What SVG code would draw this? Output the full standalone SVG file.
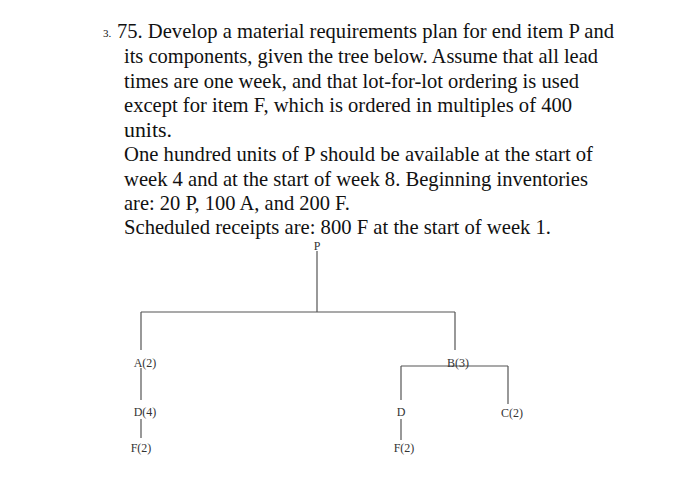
<svg xmlns="http://www.w3.org/2000/svg" width="700" height="494" viewBox="0 0 700 494">
<style>
.t{font-family:"Liberation Serif",serif;font-size:21px;fill:#111}
.n{font-family:"Liberation Serif",serif;font-size:12px;fill:#333;text-anchor:middle}
.c{stroke:#555;stroke-width:1.2;fill:none}
</style>
<rect width="700" height="494" fill="#fff"/>
<g id="question">
<text x="103" y="37" style="font-family:'Liberation Serif',serif;font-size:11px;fill:#111">3.</text>
<text class="t" x="117" y="38" textLength="497" lengthAdjust="spacingAndGlyphs">75. Develop a material requirements plan for end item P and</text>
<text class="t" x="124" y="63" textLength="474" lengthAdjust="spacingAndGlyphs">its components, given the tree below. Assume that all lead</text>
<text class="t" x="124" y="88" textLength="455" lengthAdjust="spacingAndGlyphs">times are one week, and that lot-for-lot ordering is used</text>
<text class="t" x="124" y="112" textLength="448" lengthAdjust="spacingAndGlyphs">except for item F, which is ordered in multiples of 400</text>
<text class="t" x="124" y="137" textLength="48" lengthAdjust="spacingAndGlyphs">units.</text>
<text class="t" x="124" y="161" textLength="469" lengthAdjust="spacingAndGlyphs">One hundred units of P should be available at the start of</text>
<text class="t" x="124" y="186" textLength="464" lengthAdjust="spacingAndGlyphs">week 4 and at the start of week 8. Beginning inventories</text>
<text class="t" x="124" y="210" textLength="226" lengthAdjust="spacingAndGlyphs">are: 20 P, 100 A, and 200 F.</text>
<text class="t" x="124" y="234" textLength="427" lengthAdjust="spacingAndGlyphs">Scheduled receipts are: 800 F at the start of week 1.</text>
</g>
<g id="connectors">
<path class="c" d="M317 251V312M141 312H455M141 312V350M455 312V350M141 368V400M141 419V438M401 366H508M401 366V400M508 366V404M401 419V440"/>
</g>
<g id="P"><text class="n" x="317" y="250">P</text></g>
<g id="A"><text class="n" x="145" y="367">A(2)</text></g>
<g id="B"><text class="n" x="458" y="367">B(3)</text></g>
<g id="D1"><text class="n" x="145" y="416">D(4)</text></g>
<g id="F1"><text class="n" x="141" y="452">F(2)</text></g>
<g id="D2"><text class="n" x="401" y="416">D</text></g>
<g id="C"><text class="n" x="512" y="417">C(2)</text></g>
<g id="F2"><text class="n" x="404" y="452">F(2)</text></g>
</svg>
